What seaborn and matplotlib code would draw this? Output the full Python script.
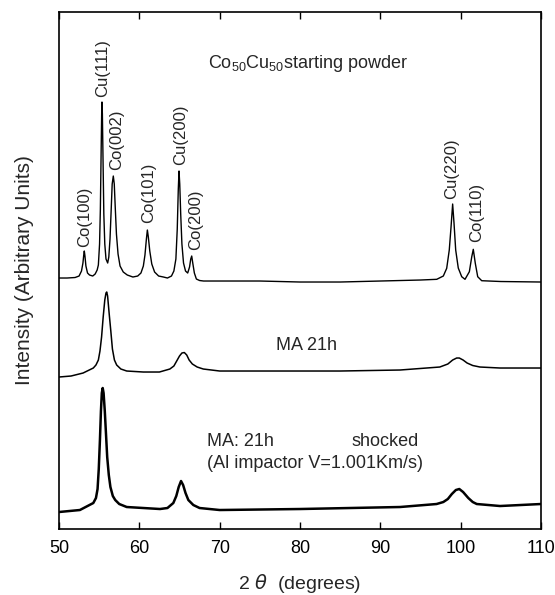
import matplotlib
matplotlib.use("Agg")
import matplotlib.pyplot as plt
import seaborn as sns
import pandas as pd

# ---- data (2theta in degrees, intensity in arbitrary units) ----
start_2theta = [50.0, 51.0, 52.0, 52.5, 52.8, 52.98, 53.08, 53.15, 53.23, 53.35, 53.55,
                53.8, 54.2, 54.5, 54.75, 54.9, 55.05, 55.15, 55.25, 55.32, 55.35, 55.4,
                55.48, 55.58, 55.7, 55.85, 56.06, 56.2, 56.35, 56.5, 56.62, 56.76, 56.88,
                57.0, 57.15, 57.35, 57.6, 58.0, 58.5, 59.2, 59.8, 60.2, 60.5, 60.7, 60.88,
                61.0, 61.12, 61.3, 61.55, 61.9, 62.4, 63.0, 63.5, 64.0, 64.3, 64.55,
                64.72, 64.85, 64.94, 65.03, 65.15, 65.3, 65.5, 65.75, 66.02, 66.25, 66.4,
                66.52, 66.65, 66.85, 67.1, 67.5, 68.0, 70.0, 75.0, 80.0, 85.0, 90.0,
                95.0, 97.02, 97.84, 98.26, 98.58, 98.8, 99.0, 99.17, 99.38, 99.7, 100.13,
                100.54, 101.08, 101.38, 101.57, 101.82, 102.12, 102.62, 105.0, 110.0]
start_int = [251, 251, 251.5, 253, 258, 266, 274, 278, 273, 263, 256,
             254, 253, 255, 259, 264, 285, 320, 380, 420, 427, 415,
             370, 315, 285, 270, 266, 272, 290, 320, 345, 353, 345,
             322, 295, 275, 263, 257, 254, 252, 253, 256, 263, 274, 290,
             299, 292, 278, 265, 257, 253, 252, 251, 253, 258, 270,
             300, 340, 358, 345, 315, 285, 266, 258, 256, 262, 270,
             273, 266, 256, 250, 248.5, 248, 248, 248, 247, 247, 248,
             249, 249.7, 253, 260.7, 279, 302, 325, 306, 279, 261, 252.3,
             249.7, 257.3, 272.3, 279.7, 265.7, 252.3, 248.3, 247.5, 247]

ma21_2theta = [50.0, 51.5, 53.0, 54.27, 54.6, 54.9, 55.1, 55.3, 55.5, 55.7, 55.85,
               55.94, 56.05, 56.25, 56.45, 56.65, 56.9, 57.18, 57.7, 58.43, 60.5, 62.5,
               63.8, 64.3, 64.65, 65.0, 65.3, 65.6, 65.9, 66.2, 66.6, 67.2, 67.96,
               70.0, 75.0, 80.0, 85.0, 92.45, 97.4, 98.4, 99.0, 99.5, 99.83, 100.3,
               100.8, 101.5, 102.4, 104.9, 110.0]
ma21_int = [152, 153, 156, 161, 164, 169, 178, 192, 212, 229, 236,
            237, 233, 215, 198, 180, 169, 164, 160, 158, 157, 157,
            160, 163, 168, 173, 176, 176.5, 174, 169, 165, 162, 160,
            158, 158, 158, 158, 159, 162, 165, 169, 171, 171, 169,
            166, 163.5, 162, 161, 161]

shock_2theta = [50.0, 52.6, 54.27, 54.6, 54.8, 54.95, 55.1, 55.22, 55.33, 55.44, 55.55,
                55.7, 55.85, 56.0, 56.2, 56.4, 56.7, 57.0, 57.5, 58.43, 62.57, 63.5,
                64.23, 64.6, 64.9, 65.19, 65.45, 65.75, 66.1, 66.72, 67.5, 70.0, 80.0,
                92.45, 97.0, 97.84, 98.4, 98.9, 99.4, 99.83, 100.3, 100.95, 101.5, 102.0,
                104.9, 110.0]
shock_int = [17, 19, 26, 31, 40, 60, 90, 118, 136, 141, 136,
             118, 95, 72, 54, 42, 33, 29, 25, 22, 20, 21,
             26, 33, 42, 48, 44, 36, 29, 24, 21, 19, 20,
             22, 25, 27, 30, 35, 39, 40, 37, 31, 27, 25,
             23, 25]

peak_labels = ["Co(100)", "Cu(111)", "Co(002)", "Co(101)", "Cu(200)", "Co(200)",
               "Cu(220)", "Co(110)"]
peak_label_x = [53.19, 55.44, 57.18, 61.2, 65.15, 66.97, 98.92, 102.0]
peak_label_y = [282, 432, 359, 306, 364, 279, 330, 287]

x_ticks = [50, 60, 70, 80, 90, 100, 110]

# ---- plotting ----
sns.set_style("ticks")
plt.rcParams["font.family"] = ["Liberation Sans", "DejaVu Sans"]
plt.rcParams["mathtext.fontset"] = "custom"
plt.rcParams["mathtext.rm"] = "Liberation Sans"

fig = plt.figure(figsize=(5.55, 5.95), dpi=100)
ax = fig.add_axes([0.1063, 0.1109, 0.8685, 0.8689])

df_start = pd.DataFrame({"two_theta": start_2theta, "intensity": start_int})
df_ma = pd.DataFrame({"two_theta": ma21_2theta, "intensity": ma21_int})
df_shock = pd.DataFrame({"two_theta": shock_2theta, "intensity": shock_int})

sns.lineplot(data=df_start, x="two_theta", y="intensity", ax=ax, color="black", lw=1.0)
sns.lineplot(data=df_ma, x="two_theta", y="intensity", ax=ax, color="black", lw=1.1)
sns.lineplot(data=df_shock, x="two_theta", y="intensity", ax=ax, color="black", lw=1.8)

ax.set_xlim(50, 110)
ax.set_ylim(0, 517)
ax.set_xticks(x_ticks)
ax.set_xticklabels([str(t) for t in x_ticks])
ax.set_yticks([])
ax.tick_params(axis="x", direction="in", top=True, bottom=True, length=5, width=1.0,
               labelsize=13, pad=8, colors="black")
for s in ax.spines.values():
    s.set_visible(True)
    s.set_linewidth(1.2)
    s.set_color("black")

ax.set_xlabel(r"2 $\theta$  (degrees)", fontsize=14, labelpad=11)
ax.set_ylabel("Intensity (Arbitrary Units)", fontsize=15, labelpad=18)

for lab, lx, ly in zip(peak_labels, peak_label_x, peak_label_y):
    ax.text(lx, ly, lab, rotation=90, ha="center", va="bottom", fontsize=12)

ax.text(68.55, 466, r"Co$_{\mathregular{50}}$Cu$_{\mathregular{50}}$starting powder",
        fontsize=13, ha="left", va="center")
ax.text(80.75, 184, "MA 21h", fontsize=13, ha="center", va="center")
ax.text(68.42, 88, "MA: 21h", fontsize=13, ha="left", va="center")
ax.text(86.44, 88, "shocked", fontsize=13, ha="left", va="center")
ax.text(68.42, 66, "(Al impactor V=1.001Km/s)", fontsize=13, ha="left", va="center")

fig.savefig("out.png", dpi=100, facecolor="white")
